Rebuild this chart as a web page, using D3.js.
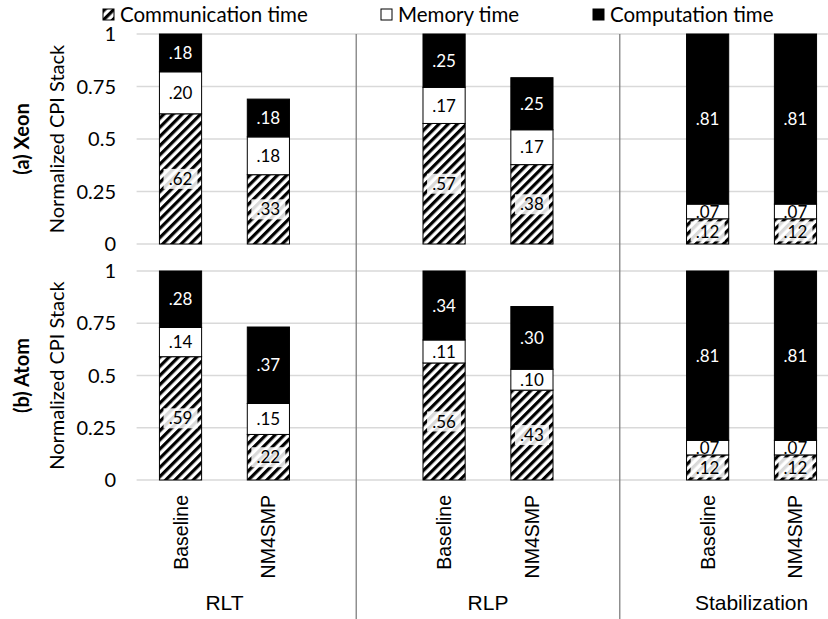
<!DOCTYPE html>
<html><head><meta charset="utf-8">
<script src="https://cdn.jsdelivr.net/npm/d3@7"></script>
<style>body{margin:0;background:#fff}</style>
</head><body>
<svg id="chart" width="828" height="619"></svg>
<script>
// ---- data ----
const groups = ["RLT", "RLP", "Stabilization"];
const configs = ["Baseline", "NM4SMP"];
const panels = ["(a) Xeon", "(b) Atom"];
const seriesNames = ["Communication time", "Memory time", "Computation time"];
const xeonComm = [0.62, 0.33, 0.574, 0.378, 0.12, 0.12];
const xeonMem  = [0.20, 0.18, 0.172, 0.166, 0.07, 0.07];
const xeonComp = [0.18, 0.18, 0.254, 0.248, 0.81, 0.81];
const atomComm = [0.59, 0.218, 0.56, 0.43, 0.12, 0.12];
const atomMem  = [0.14, 0.148, 0.11, 0.10, 0.07, 0.07];
const atomComp = [0.28, 0.366, 0.34, 0.30, 0.81, 0.81];
const yTicks = [0, 0.25, 0.5, 0.75, 1];
const yTickLabels = ["0", "0.25", "0.5", "0.75", "1"];
const yTitle = "Normalized CPI Stack";

const svg = d3.select("#chart");
const W = 828, H = 619;
const sansC = "Lato, 'Open Sans', sans-serif";
const sansA = "'Liberation Sans', Arial, sans-serif";

// patterns
const defs = svg.append("defs");
const pat = defs.append("pattern").attr("id", "hatch").attr("patternUnits", "userSpaceOnUse")
  .attr("width", 6.5).attr("height", 6.5).attr("patternTransform", "rotate(45)");
pat.append("rect").attr("width", 6.5).attr("height", 6.5).attr("fill", "#fff");
pat.append("rect").attr("width", 3.2).attr("height", 6.5).attr("fill", "#000");
const patL = defs.append("pattern").attr("id", "hatchLight").attr("patternUnits", "userSpaceOnUse")
  .attr("width", 6.5).attr("height", 6.5).attr("patternTransform", "rotate(45)");
patL.append("rect").attr("width", 6.5).attr("height", 6.5).attr("fill", "#fff");
patL.append("rect").attr("width", 3.2).attr("height", 6.5).attr("fill", "#d9d9d9");

// x slots (with gap slots between groups)
const slots = [];
groups.forEach((g, gi) => {
  configs.forEach(c => slots.push(g + "|" + c));
  if (gi < groups.length - 1) slots.push("gap" + gi);
});
const x = d3.scaleBand().domain(slots).range([136.6, 839.4]).padding(0);
const barW = x.bandwidth() * 0.48;
const cx = k => x(k) + x.bandwidth() / 2;
const barKeys = [];
groups.forEach(g => configs.forEach(c => barKeys.push(g + "|" + c)));

const panelDefs = [
  { name: panels[0], top: 34, bottom: 244, comm: xeonComm, mem: xeonMem, comp: xeonComp },
  { name: panels[1], top: 271, bottom: 480, comm: atomComm, mem: atomMem, comp: atomComp }
];

const fills = ["url(#hatch)", "#fff", "#000"];

panelDefs.forEach(p => {
  const y = d3.scaleLinear().domain([0, 1]).range([p.bottom, p.top]).clamp(true);
  const g = svg.append("g");
  // gridlines
  g.selectAll("line.grid").data(yTicks).join("line")
    .attr("x1", 136.6).attr("x2", W).attr("y1", d => y(d)).attr("y2", d => y(d))
    .attr("stroke", "#d9d9d9").attr("stroke-width", 1.3);
  // tick labels
  g.selectAll("text.tick").data(yTicks).join("text")
    .attr("x", 116).attr("y", d => y(d)).attr("dy", "0.36em")
    .attr("text-anchor", "end").attr("font-family", sansC).attr("font-size", 20).attr("fill", "#000")
    .text((d, i) => yTickLabels[i]);
  // y title
  const mid = (p.top + p.bottom) / 2;
  g.append("text").attr("transform", `translate(64,${mid}) rotate(-90)`)
    .attr("text-anchor", "middle").attr("font-family", sansC).attr("font-size", 20).text(yTitle);
  g.append("text").attr("transform", `translate(29,${mid}) rotate(-90)`)
    .attr("text-anchor", "middle").attr("font-family", sansC).attr("font-weight", "bold")
    .attr("font-size", 20).text(p.name);

  const stackData = barKeys.map((k, i) => ({ key: k, vals: [p.comm[i], p.mem[i], p.comp[i]] }));
  const stack = d3.stack().keys([0, 1, 2]).value((d, key) => d.vals[key]);
  const layers = stack(stackData);
  layers.forEach((layer, si) => {
    layer.forEach((seg, bi) => {
      const k = stackData[bi].key;
      const y0 = y(seg[0]), y1 = y(seg[1]);
      g.append("rect").attr("x", cx(k) - barW / 2).attr("y", y1).attr("width", barW)
        .attr("height", Math.max(0, y0 - y1)).attr("fill", fills[si])
        .attr("stroke", "#000").attr("stroke-width", 1);
    });
  });
  // labels
  layers.forEach((layer, si) => {
    layer.forEach((seg, bi) => {
      const k = stackData[bi].key;
      const v = stackData[bi].vals[si];
      const ym = (y(seg[0]) + y(seg[1])) / 2;
      const txt = d3.format(".2f")(v).replace(/^0/, "");
      if (si === 0) {
        g.append("rect").attr("x", cx(k) - 17).attr("y", ym - 10).attr("width", 34).attr("height", 20)
          .attr("fill", "url(#hatchLight)");
      }
      g.append("text").attr("x", cx(k)).attr("y", ym).attr("dy", "0.36em")
        .attr("text-anchor", "middle").attr("font-family", sansC).attr("font-size", 17)
        .attr("fill", si === 2 ? "#fff" : "#000").text(txt);
    });
  });
});

// group separators
const gaps = slots.filter(s => s.startsWith("gap"));
svg.selectAll("line.sep").data(gaps).join("line")
  .attr("x1", d => cx(d)).attr("x2", d => cx(d)).attr("y1", 34).attr("y2", H)
  .attr("stroke", "#7f7f7f").attr("stroke-width", 1.3);

// category labels
svg.selectAll("text.cat").data(barKeys).join("text")
  .attr("transform", d => `translate(${cx(d) + 7},495) rotate(-90)`)
  .attr("text-anchor", "end").attr("font-family", sansA).attr("font-size", 19.5)
  .text(d => d.split("|")[1]);
// group labels
svg.selectAll("text.grp").data(groups).join("text")
  .attr("x", g => (cx(g + "|" + configs[0]) + cx(g + "|" + configs[1])) / 2)
  .attr("y", 610).attr("text-anchor", "middle").attr("font-family", sansA).attr("font-size", 21)
  .text(g => g);

// legend
const legX = [103, 381, 593];
const leg = svg.selectAll("g.leg").data(seriesNames).join("g")
  .attr("transform", (d, i) => `translate(${legX[i]},9)`);
leg.append("rect").attr("width", 11).attr("height", 11).attr("fill", (d, i) => fills[i])
  .attr("stroke", "#000").attr("stroke-width", 1);
leg.append("text").attr("x", 17).attr("y", 5.5).attr("dy", "0.36em")
  .attr("font-family", sansC).attr("font-size", 20.5).text(d => d);
</script>
</body></html>
